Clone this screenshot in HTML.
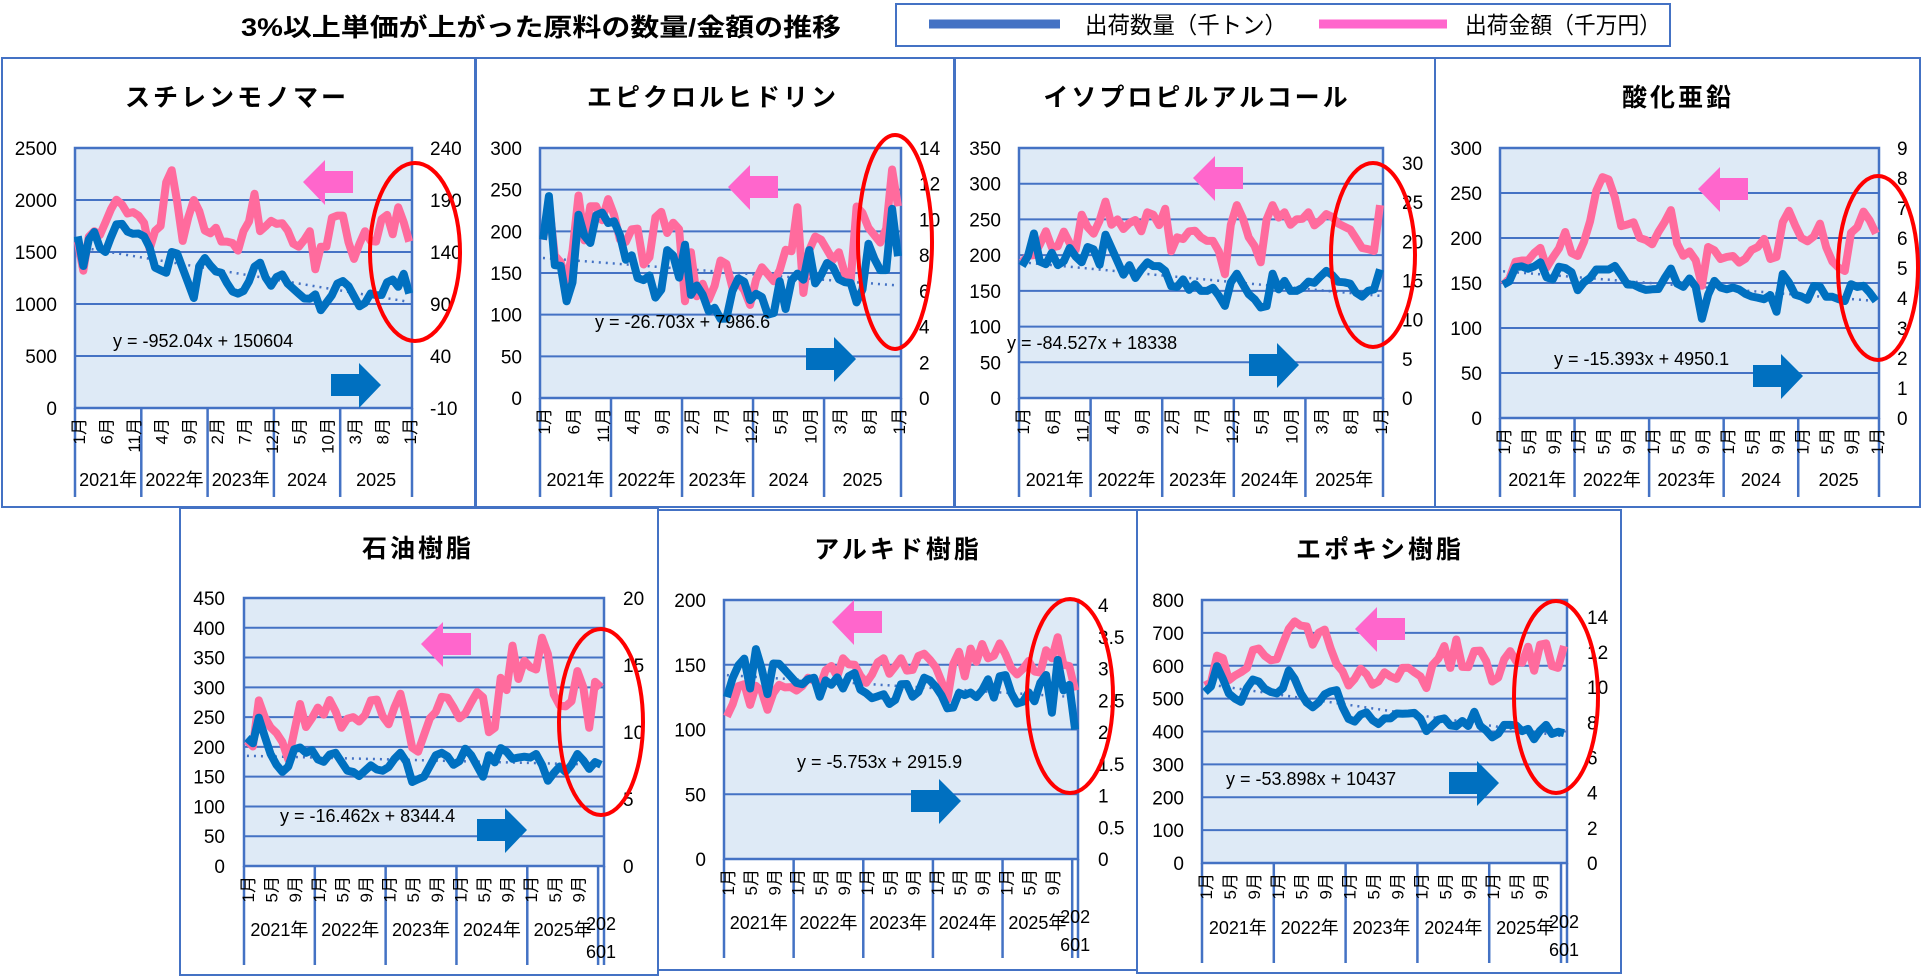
<!DOCTYPE html>
<html><head><meta charset="utf-8">
<style>
html,body{margin:0;padding:0;background:#fff;}
svg{display:block;font-family:"Liberation Sans","Noto Sans CJK JP",sans-serif;}
</style></head><body>
<svg id="s" width="1922" height="977" viewBox="0 0 1922 977" xmlns="http://www.w3.org/2000/svg">
<rect width="1922" height="977" fill="#fff"/>
<text x="541" y="36" font-size="25" font-weight="bold" text-anchor="middle" textLength="600" lengthAdjust="spacingAndGlyphs">3%以上単価が上がった原料の数量/金額の推移</text>
<rect x="896" y="4" width="774" height="42" fill="#fff" stroke="#4472C4" stroke-width="2"/>
<line x1="929" y1="24" x2="1060" y2="24" stroke="#4472C4" stroke-width="9"/>
<text x="1085" y="33" font-size="23" textLength="202" lengthAdjust="spacingAndGlyphs">出荷数量（千トン）</text>
<line x1="1319" y1="24" x2="1447" y2="24" stroke="#FF66CC" stroke-width="9"/>
<text x="1465" y="33" font-size="23" textLength="196" lengthAdjust="spacingAndGlyphs">出荷金額（千万円）</text>
</svg>
<script>
const NS="http://www.w3.org/2000/svg";const S=document.getElementById('s');
function el(t,a,txt){const e=document.createElementNS(NS,t);for(const k in a)e.setAttribute(k,a[k]);if(txt!==undefined)e.textContent=txt;S.appendChild(e);return e;}
function resample(a,n){const o=[];for(let i=0;i<n;i++){const p=i*(a.length-1)/(n-1);const k=Math.floor(p),f=p-k;o.push(k+1<a.length?a[k]*(1-f)+a[k+1]*f:a[k]);}return o;}
const top5=[[0,'1月'],[5,'6月'],[10,'11月'],[15,'4月'],[20,'9月'],[25,'2月'],[30,'7月'],[35,'12月'],[40,'5月'],[45,'10月'],[50,'3月'],[55,'8月'],[60,'1月']];
const m159=[];for(let y=0;y<5;y++){m159.push([y*12,'1月'],[y*12+4,'5月'],[y*12+8,'9月']);}
const m159e=m159.concat([[60,'1月']]);
const P=[
{box:[2,58,475,507],title:'スチレンモノマー',tx:237,ty:106,plot:[75,148,412,408],lmax:2500,lstep:500,lr:57,rmin:-10,rmax:240,rstep:50,rl:430,
pink:[1600,1300,1700,1700,1650,1850,1950,2050,1850,1900,1850,1850,1500,1700,1750,2200,2300,1900,1500,2000,2000,1800,1600,1800,1600,1600,1600,1500,1700,1800,2100,1600,1800,1800,1750,1800,1600,1550,1550,1800,1300,1550,1550,1850,1850,1850,1500,1400,1700,1700,1500,1750,1950,1600,1950,1800,1600],
blue:[1650,1350,1650,1700,1500,1500,1700,1800,1750,1650,1700,1650,1650,1350,1350,1250,1500,1500,1350,1200,1050,1400,1450,1350,1300,1300,1150,1100,1100,1150,1300,1450,1300,1150,1250,1300,1200,1150,1100,1050,1050,1100,900,1050,1100,1250,1200,1150,1000,950,1100,1100,1050,1200,1250,1150,1300,1100],
tr:[1550,1020],eq:'y = -952.04x + 150604',ex:113,ey:347,pa:[303,160],ba:[331,363],ell:[415,252,45,89],months:top5,years:['2021年','2022年','2023年','2024','2025'],yy:486,tb:497,bottom:false},
{box:[476,58,954,507],title:'エピクロルヒドリン',tx:713,ty:106,plot:[540,148,901,398],lmax:300,lstep:50,lr:522,rmin:0,rmax:14,rstep:2,rl:919,
pink:[190,240,150,170,110,270,180,230,230,210,250,200,180,200,210,160,170,230,220,180,250,100,180,120,140,110,150,180,130,140,130,110,150,160,140,140,180,170,230,110,200,190,190,160,180,150,140,250,210,200,190,180,280,230],
blue:[190,245,150,160,105,150,250,165,200,235,210,210,215,160,180,145,140,150,120,130,180,170,140,195,100,150,110,100,115,75,120,140,150,115,125,125,100,100,140,105,145,150,140,190,115,165,160,155,130,150,120,105,190,170,155,145,230,170],
tr:[168,135],eq:'y = -26.703x + 7986.6',ex:595,ey:328,pa:[728,165],ba:[806,337],ell:[895,242,37,107],months:top5,years:['2021年','2022年','2023年','2024','2025'],yy:486,tb:497,bottom:false},
{box:[955,58,1435,507],title:'イソプロピルアルコール',tx:1197,ty:106,plot:[1019,148,1383,398],lmax:350,lstep:50,lr:1001,rmin:0,rmax:31.9,rstep:5,rtopv:30,rl:1402,
pink:[190,200,200,220,240,190,235,230,190,260,240,230,250,280,230,260,220,270,220,260,260,240,265,200,230,220,240,230,220,220,220,160,240,270,250,220,210,180,300,240,270,240,250,250,260,240,250,260,250,240,240,230,210,210,200,270],
blue:[185,200,235,180,190,210,170,210,210,180,210,215,180,230,210,190,170,190,160,190,190,180,190,160,150,170,150,160,150,150,155,140,125,180,170,150,140,135,110,180,150,165,150,150,155,165,160,175,180,165,160,165,150,140,150,150,180],
tr:[190,143],eq:'y = -84.527x + 18338',ex:1007,ey:349,pa:[1193,156],ba:[1249,343],ell:[1373,255,42,92],months:top5,years:['2021年','2022年','2023年','2024年','2025年'],yy:486,tb:497,bottom:false},
{box:[1435,58,1920,507],title:'酸化亜鉛',tx:1678,ty:106,plot:[1500,148,1879,418],lmax:300,lstep:50,lr:1482,rmin:0,rmax:9,rstep:1,rl:1897,
pink:[148,155,175,175,175,185,190,160,185,190,215,165,190,200,235,270,265,265,215,210,225,200,200,190,205,215,235,195,180,185,175,145,195,185,175,180,180,170,180,190,190,205,155,200,235,225,200,200,190,225,195,175,170,155,205,210,230,220,205],
blue:[148,152,170,168,165,170,175,140,170,165,170,140,150,155,165,165,165,170,155,145,150,140,145,140,150,170,150,145,155,145,105,145,155,140,145,145,140,135,135,130,140,115,160,150,135,135,130,155,140,130,140,120,150,145,148,140,130],
tr:[163,130],eq:'y = -15.393x + 4950.1',ex:1554,ey:365,pa:[1698,167],ba:[1753,354],ell:[1878,268,40,92],months:m159e,years:['2021年','2022年','2023年','2024','2025'],yy:486,tb:497,bottom:false},
{box:[180,508,658,975],title:'石油樹脂',tx:418,ty:557,plot:[244,598,604,866],lmax:450,lstep:50,lr:225,rmin:0,rmax:20,rstep:5,rl:623,
pink:[210,200,290,240,230,220,200,160,300,230,240,270,250,280,260,230,250,250,240,260,290,270,230,250,300,260,200,190,220,250,260,290,280,260,240,270,280,310,230,210,320,290,370,310,350,330,330,410,320,260,280,250,330,320,220,310,300],
blue:[215,205,260,200,180,160,155,195,200,190,195,175,175,195,185,160,160,150,160,170,160,160,170,190,190,140,145,150,170,190,190,180,160,200,190,170,150,190,170,210,180,180,185,180,190,170,140,160,170,150,190,185,160,175,170],
tr:[185,170],eq:'y = -16.462x + 8344.4',ex:280,ey:822,pa:[421,622],ba:[477,808],ell:[601,722,42,93],months:m159,years:['2021年','2022年','2023年','2024年','2025年'],yy:936,tb:965,bottom:true},
{box:[658,510,1137,970],title:'アルキド樹脂',tx:898,ty:558,plot:[724,600,1078,859],lmax:200,lstep:50,lr:706,rmin:0,rmax:4.08,rstep:0.5,rtopv:4,rl:1098,
pink:[110,120,135,135,115,140,125,110,140,130,135,130,130,140,140,130,145,150,140,155,150,150,140,135,145,155,155,135,160,150,140,155,160,155,150,140,120,150,160,140,165,150,170,150,160,170,150,145,140,155,150,135,165,150,175,150,150,130],
blue:[125,140,150,155,130,165,145,125,155,150,145,140,135,135,140,140,120,145,130,145,125,150,140,125,130,120,130,125,115,130,140,130,120,140,140,135,130,120,110,130,125,130,125,125,145,120,140,145,130,120,120,130,120,135,145,110,155,130,135,100],
tr:[142,125],eq:'y = -5.753x + 2915.9',ex:797,ey:768,pa:[832,600],ba:[911,779],ell:[1070,696,43,97],months:m159,years:['2021年','2022年','2023年','2024年','2025年'],yy:929,tb:958,bottom:true},
{box:[1137,510,1621,973],title:'エポキシ樹脂',tx:1380,ty:558,plot:[1202,600,1567,863],lmax:800,lstep:100,lr:1184,rmin:0,rmax:14.96,rstep:2,rtopv:14,rl:1587,
pink:[540,550,640,620,540,580,580,600,680,630,630,600,650,700,740,720,730,660,700,710,650,600,580,530,570,600,560,530,570,590,540,590,600,580,580,520,600,620,660,590,690,580,600,660,640,600,520,600,640,650,560,700,560,660,680,600,590,660],
blue:[520,540,620,520,510,480,530,560,550,520,520,510,590,560,510,480,470,510,520,530,470,430,430,470,440,420,440,440,460,450,460,450,400,420,440,440,400,440,410,460,410,400,370,420,420,420,400,410,360,440,390,400,395],
tr:[545,385],eq:'y = -53.898x + 10437',ex:1226,ey:785,pa:[1355,607],ba:[1449,761],ell:[1556,697,42,96],months:m159,years:['2021年','2022年','2023年','2024年','2025年'],yy:934,tb:963,bottom:true}
];
const BL='#4472C4';
for(const p of P){
 const [bx1,by1,bx2,by2]=p.box;
 el('rect',{x:bx1,y:by1,width:bx2-bx1,height:by2-by1,fill:'#fff',stroke:BL,'stroke-width':2});
 el('text',{x:p.tx,y:p.ty,'font-size':25,'font-weight':'bold','text-anchor':'middle','letter-spacing':3},p.title);
 const [l,t,r,b]=p.plot;const H=b-t;
 el('rect',{x:l,y:t,width:r-l,height:H,fill:'#DEEAF6'});
 for(let v=0;v<=p.lmax+1e-9;v+=p.lstep){const y=b-v/p.lmax*H;
  el('line',{x1:l,y1:y,x2:r,y2:y,stroke:BL,'stroke-width':2});
  el('text',{x:p.lr,y:y+7,'font-size':19,'text-anchor':'end'},String(v));}
 const rtop=p.rtopv!==undefined?p.rtopv:p.rmax;
 for(let v=p.rmin;v<=rtop+1e-9;v+=p.rstep){const y=b-(v-p.rmin)/(p.rmax-p.rmin)*H;
  el('text',{x:p.rl,y:y+7,'font-size':19},String(Math.round(v*10)/10));}
 el('rect',{x:l,y:t,width:r-l,height:H,fill:'none',stroke:BL,'stroke-width':2.5});
 const n=61,w=(r-l)/n,X=i=>l+(i+0.5)*w,Y=v=>b-v/p.lmax*H;
 const bounds=p.bottom?[0,12,24,36,48,60,61]:[0,12,24,36,48,61];
 for(const k of bounds){const x=l+k*w;el('line',{x1:x,y1:b,x2:x,y2:p.tb,stroke:BL,'stroke-width':2.5});}
 for(const [i,m] of p.months){const x=X(i)+7;el('text',{x:x,y:b+10,'font-size':17,'text-anchor':'end',transform:`rotate(-90 ${x} ${b+10})`},m);}
 for(let k=0;k<5;k++){const cx=l+(bounds[k]+bounds[k+1])/2*w;el('text',{x:cx,y:p.yy,'font-size':18,'text-anchor':'middle'},p.years[k]);}
 if(p.bottom){const x=X(60);el('text',{x:x,y:p.yy-6,'font-size':18,'text-anchor':'middle'},'202');el('text',{x:x,y:p.yy+22,'font-size':18,'text-anchor':'middle'},'601');}
 el('line',{x1:X(0),y1:Y(p.tr[0]),x2:X(60),y2:Y(p.tr[1]),stroke:BL,'stroke-width':2.5,'stroke-dasharray':'2 5'});
 const pk=resample(p.pink,n),bu=resample(p.blue,n);
 const path=a=>a.map((v,i)=>(i?'L':'M')+X(i).toFixed(1)+' '+Y(v).toFixed(1)).join(' ');
 el('path',{d:path(pk),fill:'none',stroke:'#FF6B9D','stroke-width':8,'stroke-linejoin':'round'});
 el('path',{d:path(bu),fill:'none',stroke:'#0070C0','stroke-width':8,'stroke-linejoin':'round'});
 el('text',{x:p.ex,y:p.ey,'font-size':18},p.eq);
 const [ax,ay]=p.pa;el('polygon',{points:`${ax},${ay+22} ${ax+22},${ay} ${ax+22},${ay+11} ${ax+50},${ay+11} ${ax+50},${ay+33} ${ax+22},${ay+33} ${ax+22},${ay+45}`,fill:'#FF66CC'});
 const [cx,cy]=p.ba;el('polygon',{points:`${cx},${cy+11} ${cx+28},${cy+11} ${cx+28},${cy} ${cx+50},${cy+22} ${cx+28},${cy+45} ${cx+28},${cy+33} ${cx},${cy+33}`,fill:'#0070C0'});
 const [ex,ey,erx,ery]=p.ell;el('ellipse',{cx:ex,cy:ey,rx:erx,ry:ery,fill:'none',stroke:'#FF0000','stroke-width':4});
}
</script>
</body></html>
